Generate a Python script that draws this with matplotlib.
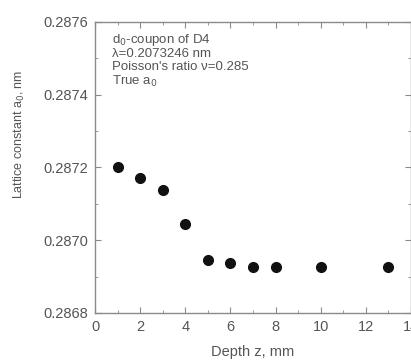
import matplotlib
matplotlib.use("Agg")
import matplotlib.pyplot as plt
from matplotlib.ticker import MultipleLocator

plt.rcParams['font.family'] = ['Liberation Sans', 'DejaVu Sans']

depth = [1, 2, 3, 4, 5, 6, 7, 8, 10, 13]
a0 = [0.28720, 0.287171, 0.287138, 0.287044, 0.286946, 0.286937,
      0.286927, 0.286927, 0.286927, 0.286927]

notes = [r"d$_0$-coupon of D4",
         "λ=0.2073246 nm",
         "Poisson's ratio ν=0.285",
         r"True a$_0$"]

txt = '#555555'
edge = '#8a8a8a'
fs = 10.5

fig = plt.figure(figsize=(4.11, 3.6), dpi=100)
ax = fig.add_axes([95 / 411, 1 - 313 / 360, 316 / 411, 291 / 360])

ax.plot(depth, a0, 'o', color='#111111', markersize=7, clip_on=False)

ax.set_xlim(0, 14)
ax.set_ylim(0.2868, 0.2876)
ax.xaxis.set_major_locator(MultipleLocator(2))
ax.xaxis.set_minor_locator(MultipleLocator(1))
ax.yaxis.set_major_locator(MultipleLocator(0.0002))
ax.yaxis.set_minor_locator(MultipleLocator(0.0001))
ax.yaxis.set_major_formatter(plt.FormatStrFormatter('%.4f'))

for s in ax.spines.values():
    s.set_color(edge)
    s.set_linewidth(1.0)
ax.tick_params(which='both', direction='in', top=True, right=True,
               colors=edge, labelcolor=txt, labelsize=fs)
ax.tick_params(which='major', length=4, pad=5)
ax.tick_params(which='minor', length=2)

ax.set_xlabel("Depth z, mm", color=txt, fontsize=fs, labelpad=8)
ax.set_ylabel(r"Lattice constant a$_0$, nm", color=txt, fontsize=9)
ax.yaxis.set_label_coords(-0.215, 0.615)

for i, t in enumerate(notes):
    ax.text(0.055, 0.938 - i * 0.047, t, transform=ax.transAxes,
            color=txt, fontsize=9.5, va='center')

fig.savefig("out.png", dpi=100)
